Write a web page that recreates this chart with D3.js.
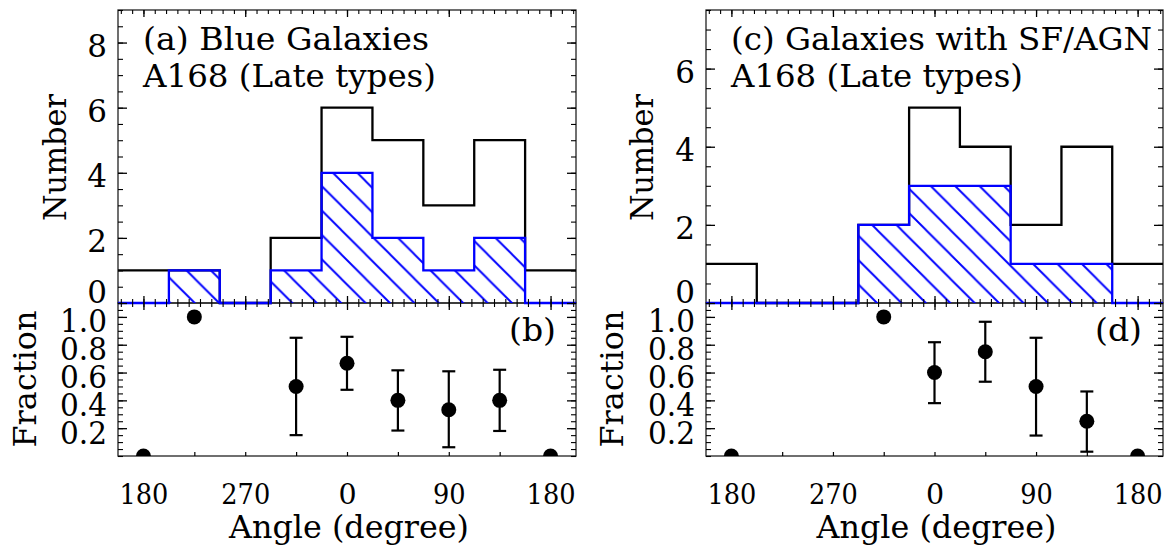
<!DOCTYPE html>
<html>
<head>
<meta charset="utf-8">
<script src="https://cdn.jsdelivr.net/npm/d3@7"></script>
<style>
  html, body { margin: 0; padding: 0; background: #fff; }
  svg { display: block; }
  text { font-family: "DejaVu Serif", serif; font-size: 31px; fill: #000; }
  text.xlab { font-size: 28.5px; }
</style>
</head>
<body>
<svg id="chart" width="1169" height="546"></svg>
<script>
// Position-angle bins (degrees) and axis labelling
const binCenters = [-180, -135, -90, -45, 0, 45, 90, 135, 180];
const binWidth = 45;
const xTickValues = [-180, -90, 0, 90, 180];
const xTickLabels = ["180", "270", "0", "90", "180"];

// (a) all late types vs. blue galaxies
const totalLateA = [1, 1, 0, 2, 6, 5, 3, 5, 1];
const blueCounts = [0, 1, 0, 1, 4, 2, 1, 2, 0];
// (c) all late types vs. galaxies with SF/AGN
const totalLateC = [1, 0, 0, 2, 5, 4, 2, 4, 1];
const sfCounts = [0, 0, 0, 2, 3, 3, 1, 1, 0];

// (b) blue fraction with error bars
const fracBlue = [0, 1, null, 0.5, 0.667, 0.4, 0.333, 0.4, 0];
const fracBlueLo = [null, null, null, 0.15, 0.476, 0.183, 0.063, 0.18, null];
const fracBlueHi = [null, null, null, 0.85, 0.857, 0.616, 0.609, 0.62, null];
// (d) SF/AGN fraction with error bars
const fracSF = [0, null, null, 1, 0.6, 0.75, 0.5, 0.25, 0];
const fracSFLo = [null, null, null, null, 0.38, 0.534, 0.147, 0.031, null];
const fracSFHi = [null, null, null, null, 0.818, 0.965, 0.85, 0.464, null];

const countTicksA = [0, 2, 4, 6, 8];
const countTicksC = [0, 2, 4, 6];
const fracTicks = [0.2, 0.4, 0.6, 0.8, 1.0];

const svg = d3.select("#chart");
const defs = svg.append("defs");

const TOP = 10, MID = 303, BOT = 456;

const panels = [
  {
    id: "a", x0: 118, x1: 576, countMax: 9, countTicks: countTicksA,
    total: totalLateA, sub: blueCounts,
    frac: fracBlue, lo: fracBlueLo, hi: fracBlueHi,
    title1: "(a) Blue Galaxies", title1Len: 286,
    title2: "A168 (Late types)", title2Len: 293,
    tag: "(b)", tagX: 509, hatchX: 194.7,
    numberX: 66, fracX: 36
  },
  {
    id: "c", x0: 706, x1: 1163, countMax: 7.5, countTicks: countTicksC,
    total: totalLateC, sub: sfCounts,
    frac: fracSF, lo: fracSFLo, hi: fracSFHi,
    title1: "(c) Galaxies with SF/AGN", title1Len: 421,
    title2: "A168 (Late types)", title2Len: 292,
    tag: "(d)", tagX: 1095, hatchX: 877,
    numberX: 653, fracX: 623
  }
];

function styleTicks(g, w) {
  g.select(".domain").remove();
  g.selectAll("line").attr("stroke", "#000").attr("stroke-width", w);
}

function fit(sel, len) {
  sel.attr("textLength", len).attr("lengthAdjust", "spacingAndGlyphs");
}

panels.forEach(p => {
  const x = d3.scaleLinear().domain([-202.5, 202.5]).range([p.x0, p.x1]);
  const yCount = d3.scaleLinear().domain([0, p.countMax]).range([MID, TOP]);
  const yFrac = d3.scaleLinear().domain([0, 1.1]).range([BOT, MID]);

  // diagonal hatching for the sub-sample histogram
  const period = 24.4;
  defs.append("pattern")
    .attr("id", "hatch-" + p.id)
    .attr("patternUnits", "userSpaceOnUse")
    .attr("x", p.hatchX).attr("y", MID)
    .attr("width", period).attr("height", period)
    .append("path")
    .attr("d", `M-1,-1 L${period + 1},${period + 1} M${period - 1},-1 L${period + 1},1 M-1,${period - 1} L1,${period + 1}`)
    .attr("stroke", "#0000ff").attr("stroke-width", 1.9).attr("fill", "none");

  defs.append("clipPath").attr("id", "clipTop-" + p.id)
    .append("rect").attr("x", p.x0).attr("y", TOP - 2).attr("width", p.x1 - p.x0).attr("height", MID - TOP + 4);
  defs.append("clipPath").attr("id", "clipBot-" + p.id)
    .append("rect").attr("x", p.x0).attr("y", MID).attr("width", p.x1 - p.x0).attr("height", BOT - MID);

  // frames
  svg.append("rect").attr("x", p.x0).attr("y", TOP).attr("width", p.x1 - p.x0).attr("height", MID - TOP)
    .attr("fill", "none").attr("stroke", "#222").attr("stroke-width", 1.3);
  svg.append("rect").attr("x", p.x0).attr("y", MID).attr("width", p.x1 - p.x0).attr("height", BOT - MID)
    .attr("fill", "none").attr("stroke", "#222").attr("stroke-width", 1.3);

  // step histograms
  const stepPts = vals => {
    const pts = binCenters.map((c, i) => [c - binWidth / 2, vals[i]]);
    pts.push([binCenters[binCenters.length - 1] + binWidth / 2, vals[vals.length - 1]]);
    return pts;
  };
  const line = d3.line().x(d => x(d[0])).y(d => yCount(d[1])).curve(d3.curveStepAfter);
  const area = d3.area().x(d => x(d[0])).y0(yCount(0)).y1(d => yCount(d[1])).curve(d3.curveStepAfter);

  const hist = svg.append("g").attr("clip-path", `url(#clipTop-${p.id})`);
  hist.append("path").attr("d", line(stepPts(p.total)))
    .attr("fill", "none").attr("stroke", "#000").attr("stroke-width", 2.3);
  hist.append("path").attr("d", area(stepPts(p.sub)))
    .attr("fill", `url(#hatch-${p.id})`).attr("stroke", "none");
  hist.append("path").attr("d", line(stepPts(p.sub)))
    .attr("fill", "none").attr("stroke", "#0000ff").attr("stroke-width", 2.3);

  // fraction points with error bars
  const fg = svg.append("g").attr("clip-path", `url(#clipBot-${p.id})`);
  binCenters.forEach((c, i) => {
    if (p.lo[i] !== null) {
      const cx = x(c);
      fg.append("line").attr("x1", cx).attr("x2", cx).attr("y1", yFrac(p.lo[i])).attr("y2", yFrac(p.hi[i]))
        .attr("stroke", "#000").attr("stroke-width", 2.2);
      [p.lo[i], p.hi[i]].forEach(v => {
        fg.append("line").attr("x1", cx - 6.5).attr("x2", cx + 6.5).attr("y1", yFrac(v)).attr("y2", yFrac(v))
          .attr("stroke", "#000").attr("stroke-width", 2.2);
      });
    }
  });
  fg.selectAll("circle").data(binCenters.map((c, i) => [c, p.frac[i]]).filter(d => d[1] !== null))
    .join("circle").attr("cx", d => x(d[0])).attr("cy", d => yFrac(d[1])).attr("r", 7.5).attr("fill", "#000");

  // x ticks along the histogram panel edges and the fraction panel top
  const minorX = d3.range(-200, 201, 10);
  [
    [d3.axisBottom, TOP], [d3.axisTop, MID], [d3.axisBottom, MID]
  ].forEach(([axisFn, yPos]) => {
    svg.append("g").attr("transform", `translate(0,${yPos})`)
      .call(axisFn(x).tickValues(minorX).tickSize(4).tickFormat(""))
      .call(g => styleTicks(g, 1.1));
    svg.append("g").attr("transform", `translate(0,${yPos})`)
      .call(axisFn(x).tickValues(xTickValues).tickSize(7).tickFormat(""))
      .call(g => styleTicks(g, 1.3));
  });
  // fraction panel bottom: small ticks at the bin centres
  svg.append("g").attr("transform", `translate(0,${BOT})`)
    .call(d3.axisTop(x).tickValues(binCenters).tickSize(4).tickFormat(""))
    .call(g => styleTicks(g, 1.2));

  // x labels
  svg.append("g").attr("transform", `translate(0,${BOT})`)
    .call(d3.axisBottom(x).tickValues(xTickValues).tickSize(0).tickPadding(0)
      .tickFormat((d, i) => xTickLabels[i]))
    .call(g => {
      g.select(".domain").remove();
      g.selectAll("text").attr("class", "xlab").attr("fill", "#000").attr("dy", null).attr("y", 47.5)
        .each(function () {
          const t = d3.select(this).text();
          if (t.length > 1) fit(d3.select(this), t.length * 16.3);
        });
    });

  // y ticks: count axis
  const minorCount = d3.range(0, p.countMax + 0.01, 0.5);
  [[d3.axisRight, p.x0], [d3.axisLeft, p.x1]].forEach(([axisFn, xPos]) => {
    svg.append("g").attr("transform", `translate(${xPos},0)`)
      .call(axisFn(yCount).tickValues(minorCount).tickSize(5).tickFormat(""))
      .call(g => styleTicks(g, 1.1));
    svg.append("g").attr("transform", `translate(${xPos},0)`)
      .call(axisFn(yCount).tickValues(p.countTicks).tickSize(9).tickFormat(""))
      .call(g => styleTicks(g, 1.3));
  });
  svg.append("g").attr("transform", `translate(${p.x0},0)`)
    .call(d3.axisLeft(yCount).tickValues(p.countTicks).tickSize(0).tickPadding(11).tickFormat(d3.format("d")))
    .call(g => {
      g.select(".domain").remove();
      g.selectAll("text").attr("fill", "#000").attr("dy", null)
        .attr("y", d => d === 0 ? -1 : 13.5);
    });

  // y ticks: fraction axis
  const minorFrac = d3.range(0, 1.1, 0.05);
  [[d3.axisRight, p.x0], [d3.axisLeft, p.x1]].forEach(([axisFn, xPos]) => {
    svg.append("g").attr("transform", `translate(${xPos},0)`)
      .call(axisFn(yFrac).tickValues(minorFrac).tickSize(5).tickFormat(""))
      .call(g => styleTicks(g, 1.1));
    svg.append("g").attr("transform", `translate(${xPos},0)`)
      .call(axisFn(yFrac).tickValues(fracTicks).tickSize(9).tickFormat(""))
      .call(g => styleTicks(g, 1.3));
  });
  svg.append("g").attr("transform", `translate(${p.x0},0)`)
    .call(d3.axisLeft(yFrac).tickValues(fracTicks).tickSize(0).tickPadding(11).tickFormat(d3.format(".1f")))
    .call(g => {
      g.select(".domain").remove();
      g.selectAll("text").attr("fill", "#000").attr("dy", null).attr("y", 15)
        .call(s => fit(s, 47));
    });

  // titles and tags
  svg.append("text").attr("x", p.x0 + 25).attr("y", 50).text(p.title1).call(s => fit(s, p.title1Len));
  svg.append("text").attr("x", p.x0 + 25).attr("y", 87).text(p.title2).call(s => fit(s, p.title2Len));
  svg.append("text").attr("x", p.tagX).attr("y", 341).text(p.tag).call(s => fit(s, 47));

  // axis titles
  svg.append("text").attr("text-anchor", "middle")
    .attr("transform", `translate(${(p.x0 + p.x1) / 2 + 2},538)`)
    .text("Angle (degree)").call(s => fit(s, 240));
  svg.append("text").attr("text-anchor", "middle")
    .attr("transform", `translate(${p.numberX},157.5) rotate(-90)`)
    .text("Number").call(s => fit(s, 127));
  svg.append("text").attr("text-anchor", "middle")
    .attr("transform", `translate(${p.fracX},379) rotate(-90)`)
    .text("Fraction").call(s => fit(s, 137));
});
</script>
</body>
</html>
